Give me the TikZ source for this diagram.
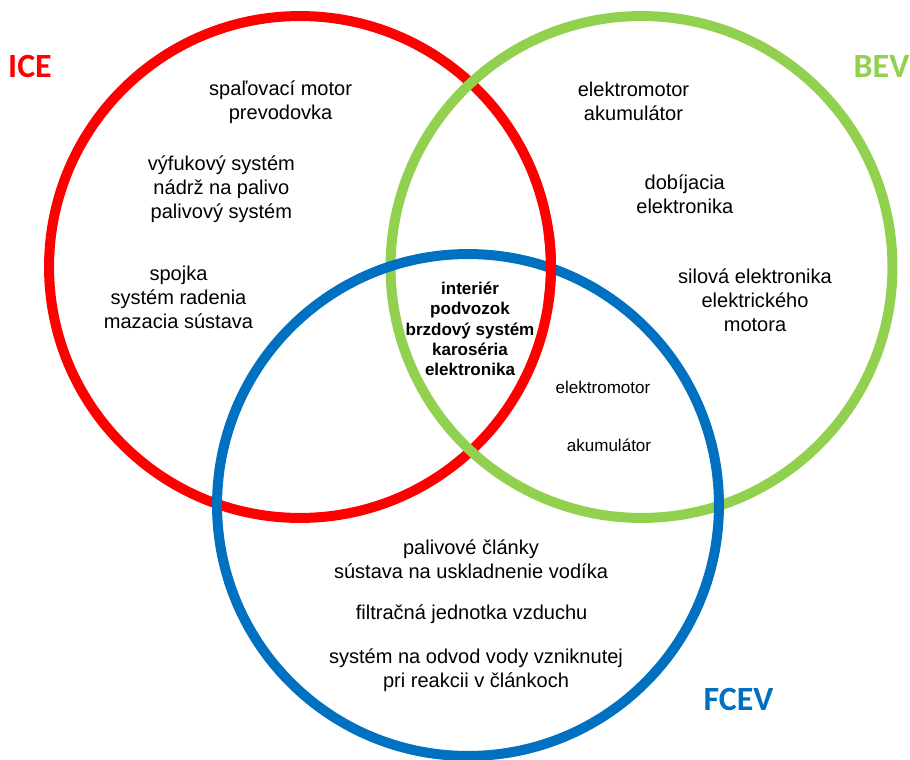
\documentclass[tikz,border=0pt]{standalone}
\usepackage{fontspec}
\setmainfont{Liberation Sans}
\newfontfamily\tagfont{Carlito}
\usetikzlibrary{positioning}
\definecolor{iceRed}{HTML}{FF0000}
\definecolor{bevGreen}{HTML}{92D050}
\definecolor{fcevBlue}{HTML}{0070C0}
\tikzset{
	ring/.style={draw=#1, circle, line width=0.2cm, minimum size=10.04cm, inner sep=0pt, outer sep=0pt},
	part/.style={align=center, inner sep=1pt, font=\fontsize{11.4}{13.7}\selectfont},
	shared/.style={align=center, inner sep=1pt, font=\bfseries\fontsize{9.7}{11.6}\selectfont},
	minor/.style={inner sep=1pt, font=\fontsize{9.7}{11.6}\selectfont},
	% names of the three drive types
	tag/.style={text=#1, inner sep=0pt, font=\tagfont\bfseries\fontsize{19.3}{23}\selectfont},
}

\begin{document}
\begin{tikzpicture}[x=0.02cm, y=-0.02cm]
	\useasboundingbox (0,0) rectangle (910,760);
	
	\node (ice) [ring=iceRed] at (300,267) {};
	\node (bev) [ring=bevGreen] at (641.5,267) {};
	\node (fcev) [ring=fcevBlue] at (468,505) {};
	% red passes over blue on the right
	\draw [iceRed, line width=0.2cm] (ice.8) arc[start angle=8, end angle=-8, radius=5.02cm];
	
	\node (iceTag) [tag=iceRed] at (30,67) {ICE};
	\node (bevTag) [tag=bevGreen] at (881.5,67) {BEV};
	\node (fcevTag) [tag=fcevBlue] at (738.5,699.5) {FCEV};
	
	% ICE only
	\node (motor) [part] at (280.6,101.8) {spaľovací motor\\prevodovka};
	\node (vyfuk) [part] at (221.4,189) {výfukový systém\\nádrž na palivo\\palivový systém};
	\node (spojka) [part] at (178.5,297.6) {spojka\\systém radenia\\mazacia sústava};
	
	% BEV only
	\node (emotor) [part] at (633.5,101.8) {elektromotor\\akumulátor};
	\node (dobij) [part] at (684.8,194.4) {dobíjacia\\elektronika};
	\node (silova) [part] at (755,300) {silová elektronika\\elektrického\\motora};
	
	% common to all
	\node (spolocne) [shared] at (470,329) {interiér\\podvozok\\brzdový systém\\karoséria\\elektronika};
	
	% BEV and FCEV
	\node (emotor2) [minor] at (603,387.8) {elektromotor};
	\node (akum2) [minor] at (609,445) {akumulátor};
	
	% FCEV only
	\node (clanky) [part] at (471,559.5) {palivové články\\sústava na uskladnenie vodíka};
	\node (filter) [part] at (471.6,614.6) {filtračná jednotka vzduchu};
	\node (voda) [part] at (476,670) {systém na odvod vody vzniknutej\\pri reakcii v článkoch};
\end{tikzpicture}
\end{document}
